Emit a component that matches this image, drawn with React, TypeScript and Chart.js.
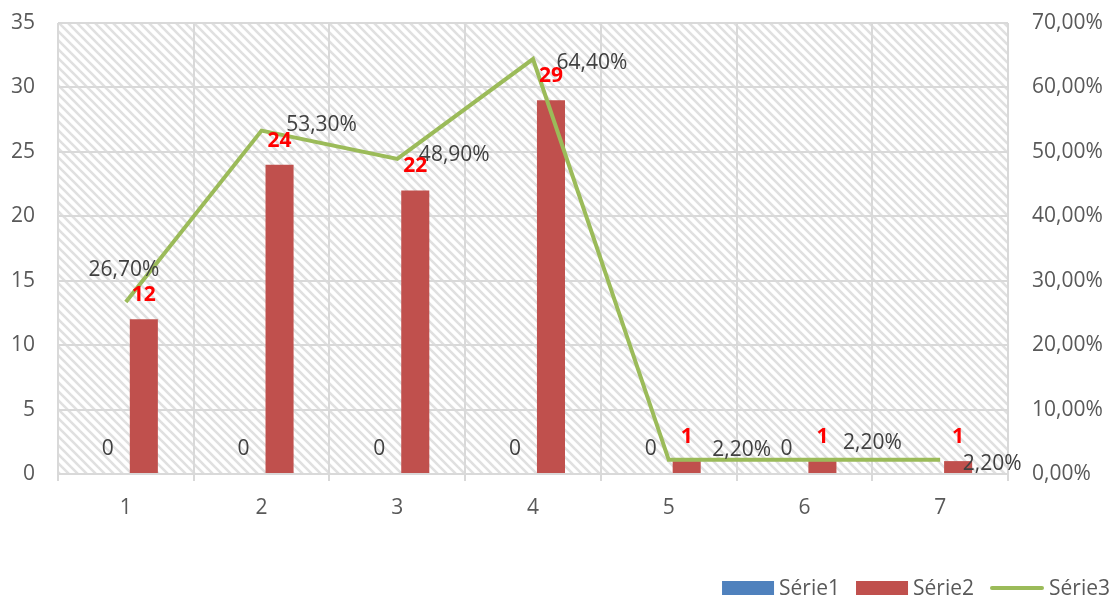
import React, { useEffect, useRef } from "react";
import { Chart, registerables } from "chart.js";

Chart.register(...registerables);

// Categories and series values
const categories = ["1", "2", "3", "4", "5", "6", "7"];
const serie1 = [0, 0, 0, 0, 0, 0, 0];
const serie2 = [12, 24, 22, 29, 1, 1, 1];
const serie3 = [26.7, 53.3, 48.9, 64.4, 2.2, 2.2, 2.2]; // percent

// Axis ranges
const leftMax = 35;
const leftStep = 5;
const rightMax = 70;
const rightStep = 10;

// Série1 value labels that are not shown
const serie1HiddenLabels = [6];

// Placement of the Série3 labels relative to each point (label centre)
const serie3LabelOffsets = [
  [-2, -34],
  [60, -8],
  [57, -6],
  [59, 2],
  [73, -12],
  [68, -19],
  [52, 2],
];

const FONT = '"Open Sans", "DejaVu Sans", sans-serif';
const FONT_SIZE = 21;
const TEXT = "#595959";
const LABEL_TEXT = "#404040";
const GRID = "#d9d9d9";
const C1 = "#4F81BD";
const C2 = "#C0504D";
const C3 = "#9BBB59";
// small downward nudge so digits sit centred on the middle baseline
const BASELINE_NUDGE = 2;

const fmtPct = (v: number) => `${v.toFixed(2).replace(".", ",")}%`;

function makeHatch(): CanvasPattern | string {
  const n = 9;
  const tile = document.createElement("canvas");
  tile.width = n;
  tile.height = n;
  const c = tile.getContext("2d");
  if (!c) return "#ffffff";
  c.fillStyle = "#ffffff";
  c.fillRect(0, 0, n, n);
  c.strokeStyle = "#e0e0e0";
  c.lineWidth = 2.6;
  for (const o of [-n, 0, n]) {
    c.beginPath();
    c.moveTo(o - 1, -1);
    c.lineTo(o + n + 1, n + 1);
    c.stroke();
  }
  const p = c.createPattern(tile, "repeat");
  return p || "#ffffff";
}

// Hatched plot-area background
const plotBackground = {
  id: "plotBackground",
  beforeDraw(chart: any) {
    const { ctx, chartArea } = chart;
    if (!chartArea) return;
    ctx.save();
    ctx.fillStyle = makeHatch();
    ctx.fillRect(
      chartArea.left,
      chartArea.top,
      chartArea.right - chartArea.left,
      chartArea.bottom - chartArea.top
    );
    ctx.restore();
  },
};

// Data labels for all three series
const valueLabels = {
  id: "valueLabels",
  afterDatasetsDraw(chart: any) {
    const ctx = chart.ctx;
    ctx.save();
    ctx.textAlign = "center";
    ctx.textBaseline = "middle";

    const m0 = chart.getDatasetMeta(0);
    ctx.font = `${FONT_SIZE}px ${FONT}`;
    ctx.fillStyle = LABEL_TEXT;
    m0.data.forEach((el: any, i: number) => {
      if (serie1HiddenLabels.includes(i)) return;
      ctx.fillText(String(serie1[i]), el.x, el.y - 27 + BASELINE_NUDGE);
    });

    const m2 = chart.getDatasetMeta(2);
    ctx.fillStyle = LABEL_TEXT;
    m2.data.forEach((el: any, i: number) => {
      const [dx, dy] = serie3LabelOffsets[i];
      ctx.fillText(fmtPct(serie3[i]), el.x + dx, el.y + dy + BASELINE_NUDGE);
    });

    const m1 = chart.getDatasetMeta(1);
    ctx.font = `bold ${FONT_SIZE}px ${FONT}`;
    ctx.fillStyle = "#FF0000";
    m1.data.forEach((el: any, i: number) => {
      ctx.fillText(String(serie2[i]), el.x, el.y - 26 + BASELINE_NUDGE);
    });
    ctx.restore();
  },
};

// Legend row at the bottom right
const bottomLegend = {
  id: "bottomLegend",
  afterDraw(chart: any) {
    const ctx = chart.ctx;
    const cy = chart.height - 11;
    ctx.save();
    ctx.font = `${FONT_SIZE}px ${FONT}`;
    ctx.textBaseline = "middle";
    ctx.textAlign = "left";
    const items = chart.data.datasets.map((d: any) => ({
      label: d.label as string,
      color: (d.type === "line" ? d.borderColor : d.backgroundColor) as string,
      line: d.type === "line",
    }));
    let x = chart.width - 5;
    const placed: any[] = [];
    for (let i = items.length - 1; i >= 0; i--) {
      const it = items[i];
      const tw = ctx.measureText(it.label).width;
      x -= tw;
      const tx = x;
      x -= 5;
      const bw = it.line ? 54 : 52;
      x -= bw;
      placed.push({ ...it, tx, bx: x, bw });
      x -= 16;
    }
    for (const p of placed) {
      if (p.line) {
        ctx.strokeStyle = p.color;
        ctx.lineWidth = 4;
        ctx.lineCap = "round";
        ctx.beginPath();
        ctx.moveTo(p.bx + 2, cy);
        ctx.lineTo(p.bx + p.bw - 2, cy);
        ctx.stroke();
      } else {
        ctx.fillStyle = p.color;
        ctx.fillRect(p.bx, cy - 7, p.bw, 14);
      }
      ctx.fillStyle = TEXT;
      ctx.fillText(p.label, p.tx, cy + 1);
    }
    ctx.restore();
  },
};

// Vertical axes: fixed widths, no extra padding reserved above/below
const fitVertical = (w: number) => (s: any) => {
  s.width = w;
  s.paddingTop = 0;
  s.paddingBottom = 0;
};

export default function App() {
  const canvasRef = useRef<HTMLCanvasElement | null>(null);

  useEffect(() => {
    if (!canvasRef.current) return;
    const chart = new Chart(canvasRef.current, {
      type: "bar",
      data: {
        labels: categories,
        datasets: [
          {
            type: "bar",
            label: "Série1",
            data: serie1,
            backgroundColor: C1,
            yAxisID: "y",
            order: 1,
            categoryPercentage: 0.53,
            barPercentage: 0.78,
          },
          {
            type: "bar",
            label: "Série2",
            data: serie2,
            backgroundColor: C2,
            yAxisID: "y",
            order: 1,
            categoryPercentage: 0.53,
            barPercentage: 0.78,
          },
          {
            type: "line",
            label: "Série3",
            data: serie3,
            borderColor: C3,
            backgroundColor: C3,
            borderWidth: 4,
            pointRadius: 0,
            tension: 0,
            yAxisID: "y1",
            order: 0,
          },
        ] as any,
      },
      options: {
        animation: false,
        responsive: true,
        maintainAspectRatio: false,
        layout: { padding: { top: 23, bottom: 80, left: 0, right: 0 } },
        plugins: {
          legend: { display: false },
          tooltip: { enabled: false },
        },
        scales: {
          x: {
            offset: true,
            grid: {
              offset: true,
              color: GRID,
              lineWidth: 2,
              drawTicks: true,
              tickLength: 7,
            },
            border: { display: true, color: GRID, width: 2 },
            ticks: {
              color: TEXT,
              font: { family: FONT, size: FONT_SIZE },
              padding: 14,
            },
            afterFit: (s: any) => {
              s.height = 45;
            },
          },
          y: {
            position: "left",
            min: 0,
            max: leftMax,
            ticks: {
              stepSize: leftStep,
              color: TEXT,
              font: { family: FONT, size: FONT_SIZE },
              padding: 23,
            },
            grid: { color: GRID, lineWidth: 2, drawTicks: false },
            border: { display: false },
            afterFit: fitVertical(58),
          },
          y1: {
            position: "right",
            min: 0,
            max: rightMax,
            ticks: {
              stepSize: rightStep,
              color: TEXT,
              font: { family: FONT, size: FONT_SIZE },
              padding: 24,
              callback: (v: any) => fmtPct(Number(v)),
            },
            grid: { display: false, drawTicks: false },
            border: { display: false },
            afterFit: fitVertical(107),
          },
        },
      } as any,
      plugins: [plotBackground, valueLabels, bottomLegend],
    });
    return () => chart.destroy();
  }, []);

  return (
    <div
      style={{
        position: "fixed",
        left: 0,
        top: 0,
        width: 1115,
        height: 599,
        background: "#ffffff",
      }}
    >
      <canvas ref={canvasRef} />
    </div>
  );
}
